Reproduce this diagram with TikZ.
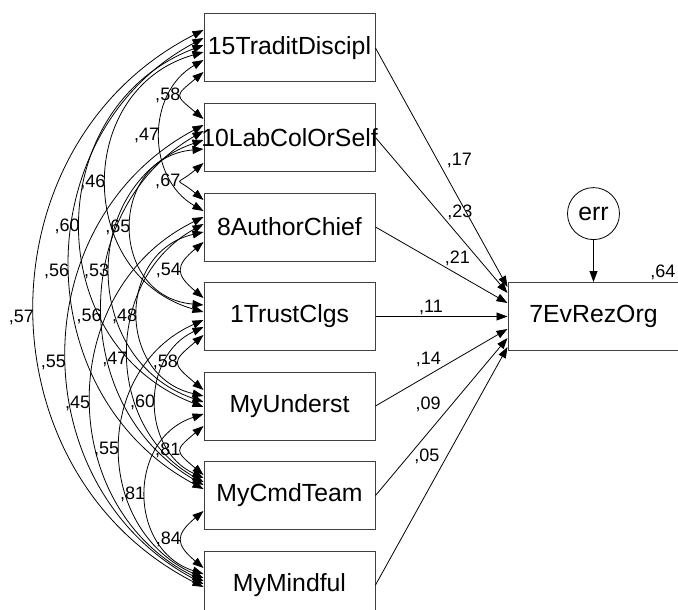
\documentclass[tikz,border=0pt]{standalone}
\usepackage{fontspec}
\setmainfont{Liberation Sans}
\usetikzlibrary{arrows.meta, positioning}
\tikzset{obs/.style={draw=black!75, line width=1pt, minimum width=171pt, minimum height=68pt, inner sep=0pt, font=\fontsize{24.8}{28}\selectfont}}
\tikzset{resid/.style={draw, circle, line width=0.8pt, minimum size=52pt, inner sep=0pt, font=\fontsize{24.8}{28}\selectfont}}
\tikzset{lbl/.style={inner sep=1pt, font=\fontsize{18}{21}\selectfont}}
\tikzset{regr/.style={-{Triangle[length=11pt, width=8pt]}, line width=0.8pt}}
\tikzset{cov/.style={{Triangle[length=11pt, width=8pt]}-{Triangle[length=11pt, width=8pt]}, line width=0.8pt}}

\begin{document}
\begin{tikzpicture}[x=1pt, y=1pt, node distance=20.5pt]
\path[use as bounding box, fill=white] (0,0) rectangle (678,-610);

\node[obs] (trad) at (289.5,-48) {15TraditDiscipl};
\node[obs, below=of trad] (labcol) {\makebox[0pt]{10LabColOrSelf}};
\node[obs, below=of labcol] (author) {8AuthorChief};
\node[obs, below=of author] (trust) {1TrustClgs};
\node[obs, below=of trust] (underst) {MyUnderst};
\node[obs, below=of underst] (cmdteam) {MyCmdTeam};
\node[obs, below=of cmdteam] (mindful) {MyMindful};

\node[obs, right=132pt of trust] (evrez) {7EvRezOrg};
\node[resid, above=42pt of evrez] (err) {err};
\node[lbl, above left=1pt and 3pt of evrez.north east] (rsq) {,64};

% regression weights
\draw[regr] (err) -- (evrez);
\draw[regr] (trad.east) -- ([yshift=29.5pt]evrez.west) node[lbl, pos=.47, right=8pt] {,17};
\draw[regr] (labcol.east) -- ([yshift=23.5pt]evrez.west) node[lbl, pos=.48, right=7pt] {,23};
\draw[regr] (author.east) -- ([yshift=13.5pt]evrez.west) node[lbl, pos=.62, above=7pt] {,21};
\draw[regr] (trust.east) -- (evrez.west) node[lbl, pos=.42, above] {,11};
\draw[regr] (underst.east) -- ([yshift=-12.5pt]evrez.west) node[lbl, pos=.4, above=7pt] {,14};
\draw[regr] (cmdteam.east) -- ([yshift=-21.5pt]evrez.west) node[lbl, pos=.58, left=10pt] {,09};
\draw[regr] (mindful.east) -- ([yshift=-30.5pt]evrez.west) node[lbl, pos=.54, left=6pt] {,05};

% covariances
\draw[cov] ([yshift=-24pt]trad.west) .. controls +(220:38pt) and +(140:38pt) .. ([yshift=18.5pt]labcol.west) node[lbl, pos=.5, left] {,58};
\draw[cov] ([yshift=-25.5pt]labcol.west) .. controls +(220:38pt) and +(140:38pt) .. ([yshift=27pt]author.west) node[lbl, pos=.5, left] {,67};
\draw[cov] ([yshift=-15pt]author.west) .. controls +(220:37pt) and +(140:37pt) .. ([yshift=18.5pt]trust.west) node[lbl, pos=.5, left] {,54};
\draw[cov] ([yshift=-18.5pt]trust.west) .. controls +(220:42pt) and +(140:42pt) .. ([yshift=16pt]underst.west) node[lbl, pos=.5, left] {,58};
\draw[cov] ([yshift=-20pt]underst.west) .. controls +(220:38pt) and +(140:38pt) .. ([yshift=20.5pt]cmdteam.west) node[lbl, pos=.5, left] {,81};
\draw[cov] ([yshift=-15.5pt]cmdteam.west) .. controls +(220:37pt) and +(140:37pt) .. ([yshift=17pt]mindful.west) node[lbl, pos=.5, left] {,84};

\draw[cov] ([yshift=-12pt]trad.west) .. controls +(210:66pt) and +(150:66pt) .. ([yshift=16pt]author.west) node[lbl, pos=.5, left] {,47};
\draw[cov] ([yshift=-11.5pt]labcol.west) .. controls +(185:96pt) and +(175:96pt) .. ([yshift=11.5pt]trust.west) node[lbl, pos=.5, left] {,65};
\draw[cov] ([yshift=-5pt]author.west) .. controls +(193:89pt) and +(167:89pt) .. ([yshift=10pt]underst.west) node[lbl, pos=.51, left] {,48};
\draw[cov] ([yshift=-10.5pt]trust.west) .. controls +(205:69pt) and +(155:69pt) .. ([yshift=17.5pt]cmdteam.west) node[lbl, pos=.5, left] {,60};
\draw[cov] ([yshift=-8pt]underst.west) .. controls +(198:80pt) and +(162:80pt) .. ([yshift=11pt]mindful.west) node[lbl, pos=.5, left] {,81};

\draw[cov] ([yshift=-4pt]trad.west) .. controls +(196:134pt) and +(164:134pt) .. ([yshift=4.5pt]trust.west) node[lbl, pos=.5, left] {,46};
\draw[cov] ([yshift=-2.5pt]labcol.west) .. controls +(199:131pt) and +(161:131pt) .. ([yshift=4pt]underst.west) node[lbl, pos=.5, left] {,53};
\draw[cov] ([yshift=3pt]author.west) .. controls +(209:114pt) and +(151:114pt) .. ([yshift=13.5pt]cmdteam.west) node[lbl, pos=.52, left] {,47};
\draw[cov] ([yshift=-3.5pt]trust.west) .. controls +(204:121pt) and +(156:121pt) .. ([yshift=7pt]mindful.west) node[lbl, pos=.5, left] {,55};

\draw[cov] ([yshift=3pt]trad.west) .. controls +(201:175pt) and +(159:175pt) .. ([yshift=-1pt]underst.west) node[lbl, pos=.5, left] {,60};
\draw[cov] ([yshift=6.5pt]labcol.west) .. controls +(210:155pt) and +(150:155pt) .. ([yshift=10.5pt]cmdteam.west) node[lbl, pos=.52, left] {,56};
\draw[cov] ([yshift=10pt]author.west) .. controls +(206:166pt) and +(154:166pt) .. ([yshift=4pt]mindful.west) node[lbl, pos=.51, left] {,45};

\draw[cov] ([yshift=10pt]trad.west) .. controls +(208:201pt) and +(152:201pt) .. ([yshift=6.5pt]cmdteam.west) node[lbl, pos=.515, left] {,56};
\draw[cov] ([yshift=12.5pt]labcol.west) .. controls +(208:206pt) and +(152:206pt) .. ([yshift=1pt]mindful.west) node[lbl, pos=.515, left] {,55};

\draw[cov] ([yshift=18pt]trad.west) .. controls +(207:252pt) and +(153:252pt) .. ([yshift=-2pt]mindful.west) node[lbl, pos=.513, left] {,57};
\end{tikzpicture}
\end{document}
